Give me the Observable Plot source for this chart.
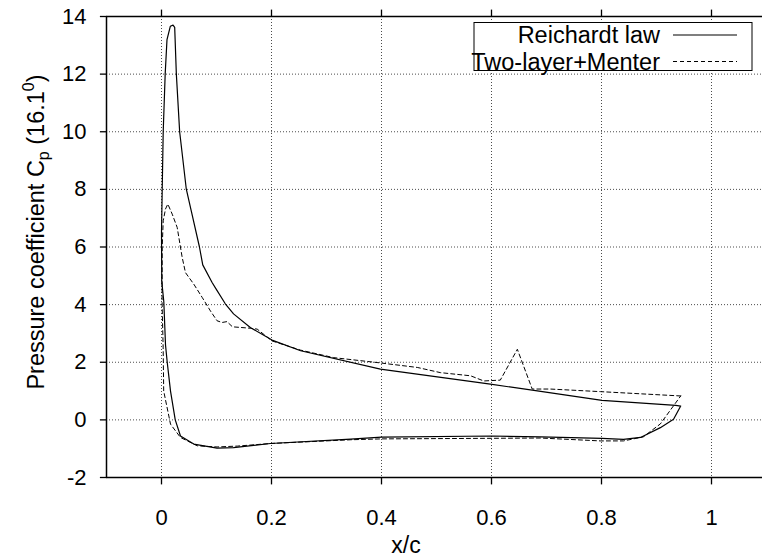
<!DOCTYPE html>
<html>
<head>
<meta charset="utf-8">
<script src="https://cdn.jsdelivr.net/npm/d3@7"></script>
<script src="https://cdn.jsdelivr.net/npm/@observablehq/plot@0.6"></script>
<style>
  html, body { margin: 0; padding: 0; background: #fff; overflow: hidden; }
  #chart { width: 762px; height: 559px; overflow: hidden; position: relative; }
  #chart svg { display: block; max-width: none !important; width: 770px !important; height: 559px !important; }
</style>
</head>
<body>
<div id="chart"></div>
<script>
// Tick values
const xTicks = [0, 0.2, 0.4, 0.6, 0.8, 1];
const yTicks = [-2, 0, 2, 4, 6, 8, 10, 12, 14];

// Series: Reichardt law (solid), ordered around the airfoil
const reichardtX = [0.944, 0.935, 0.801, 0.674, 0.598, 0.398, 0.253, 0.201, 0.162, 0.131, 0.116, 0.098, 0.092, 0.075, 0.069, 0.054, 0.045, 0.033, 0.027, 0.024, 0.021, 0.016, 0.010, 0.0067, 0.0031, 0.0013, 0.000, 0.0005, 0.0042, 0.0073, 0.0104, 0.0164, 0.025, 0.0345, 0.0587, 0.101, 0.131, 0.198, 0.344, 0.4, 0.6, 0.689, 0.801, 0.84, 0.871, 0.907, 0.931, 0.944];
const reichardtY = [0.48, 0.50, 0.68, 1.03, 1.24, 1.76, 2.40, 2.77, 3.20, 3.68, 4.03, 4.58, 4.77, 5.38, 6.00, 7.26, 8.02, 10.0, 12.0, 13.62, 13.70, 13.66, 13.2, 12.0, 10.0, 8.0, 6.5, 4.8, 4.1, 2.6, 2.0, 1.0, 0.0, -0.56, -0.84, -0.98, -0.96, -0.82, -0.67, -0.60, -0.56, -0.59, -0.64, -0.68, -0.61, -0.27, 0.02, 0.48];

// Series: Two-layer+Menter (dashed)
const menterX = [0.944, 0.798, 0.707, 0.674, 0.647, 0.616, 0.586, 0.562, 0.507, 0.465, 0.392, 0.313, 0.253, 0.201, 0.174, 0.162, 0.129, 0.119, 0.110, 0.101, 0.089, 0.074, 0.0587, 0.0436, 0.0376, 0.0285, 0.0195, 0.0115, 0.0073, 0.0031, 0.0013, 0.001, 0.003, 0.004, 0.0164, 0.0345, 0.065, 0.101, 0.138, 0.198, 0.344, 0.4, 0.6, 0.689, 0.798, 0.84, 0.876, 0.907, 0.944];
const menterY = [0.83, 0.98, 1.07, 1.07, 2.45, 1.38, 1.35, 1.53, 1.64, 1.82, 1.99, 2.16, 2.42, 2.74, 3.15, 3.18, 3.23, 3.41, 3.38, 3.44, 3.78, 4.25, 4.71, 5.11, 5.64, 6.68, 7.14, 7.49, 7.32, 6.91, 6.0, 4.1, 2.5, 1.0, -0.15, -0.61, -0.90, -0.94, -0.91, -0.82, -0.69, -0.66, -0.64, -0.63, -0.73, -0.73, -0.59, -0.14, 0.83];

const seriesNames = ["Reichardt law", "Two-layer+Menter"];

const reichardt = reichardtX.map((x, i) => ({x, y: reichardtY[i]}));
const menter = menterX.map((x, i) => ({x, y: menterY[i]}));

const font = "'Liberation Sans', Arial, Helvetica, sans-serif";
const fmt = d => String(d);

const chart = Plot.plot({
  width: 770,
  height: 559,
  marginTop: 16,
  marginBottom: 82,
  marginLeft: 106,
  marginRight: 4,
  style: {fontFamily: font, fontSize: "22px"},
  x: {domain: [-0.1, 1.1], label: null},
  y: {domain: [-2, 14], label: null},
  marks: [
    Plot.gridX(xTicks, {stroke: "#000", strokeOpacity: 0.7, strokeDasharray: "1,2", strokeWidth: 1}),
    Plot.gridY(yTicks, {stroke: "#000", strokeOpacity: 0.7, strokeDasharray: "1,2", strokeWidth: 1}),
    Plot.axisX(xTicks, {anchor: "bottom", tickSize: 0, tickPadding: 32, tickFormat: fmt, fontSize: 22, label: null}),
    Plot.axisY(yTicks, {anchor: "left", tickSize: 0, tickPadding: 20, tickFormat: fmt, fontSize: 22, label: null}),
    // outward tick marks (bottom, top, left) as links through the scales
    Plot.link(xTicks, {x1: d => d, x2: d => d, y1: -2, y2: -2.24, stroke: "#000", strokeWidth: 1.3}),
    Plot.link(xTicks, {x1: d => d, x2: d => d, y1: 14, y2: 14.24, stroke: "#000", strokeWidth: 1.3}),
    Plot.link(yTicks, {x1: -0.1, x2: -0.112, y1: d => d, y2: d => d, stroke: "#000", strokeWidth: 1.3}),
    // frame
    Plot.ruleX([-0.1], {stroke: "#000", strokeWidth: 1.5}),
    Plot.ruleY([-2, 14], {stroke: "#000", strokeWidth: 1.5}),
    // series
    Plot.line(reichardt, {x: "x", y: "y", stroke: "#000", strokeWidth: 1.2}),
    Plot.line(menter, {x: "x", y: "y", stroke: "#000", strokeWidth: 1, strokeDasharray: "4,3"})
  ]
});

document.getElementById("chart").appendChild(chart);

const svg = d3.select(chart);

// x label
svg.append("text")
  .attr("x", 406).attr("y", 553)
  .attr("text-anchor", "middle")
  .attr("font-family", font).attr("font-size", 23)
  .text("x/c");

// y label with subscript and superscript
const yl = svg.append("text")
  .attr("transform", "translate(44,232) rotate(-90)")
  .attr("text-anchor", "middle")
  .attr("font-family", font).attr("font-size", 23.5);
yl.append("tspan").text("Pressure coefficient C");
yl.append("tspan").attr("font-size", 16).attr("dy", 5).text("p");
yl.append("tspan").attr("dy", -5).text(" (16.1");
yl.append("tspan").attr("font-size", 16).attr("dy", -10).text("0");
yl.append("tspan").attr("dy", 10).text(")");

// legend
const lg = svg.append("g").attr("font-family", font).attr("font-size", 23.5);
lg.append("rect").attr("x", 474).attr("y", 22.5).attr("width", 278).attr("height", 48)
  .attr("fill", "#fff").attr("stroke", "#000").attr("stroke-width", 1);
const dashes = [null, "4,3"];
seriesNames.forEach((name, i) => {
  const yy = 35 + i * 26.5;
  lg.append("text").attr("x", 660).attr("y", yy + 8).attr("text-anchor", "end").text(name);
  const l = lg.append("line").attr("x1", 673).attr("x2", 737).attr("y1", yy).attr("y2", yy)
    .attr("stroke", "#000").attr("stroke-width", i === 0 ? 1.2 : 1);
  if (dashes[i]) l.attr("stroke-dasharray", dashes[i]);
});
</script>
</body>
</html>
